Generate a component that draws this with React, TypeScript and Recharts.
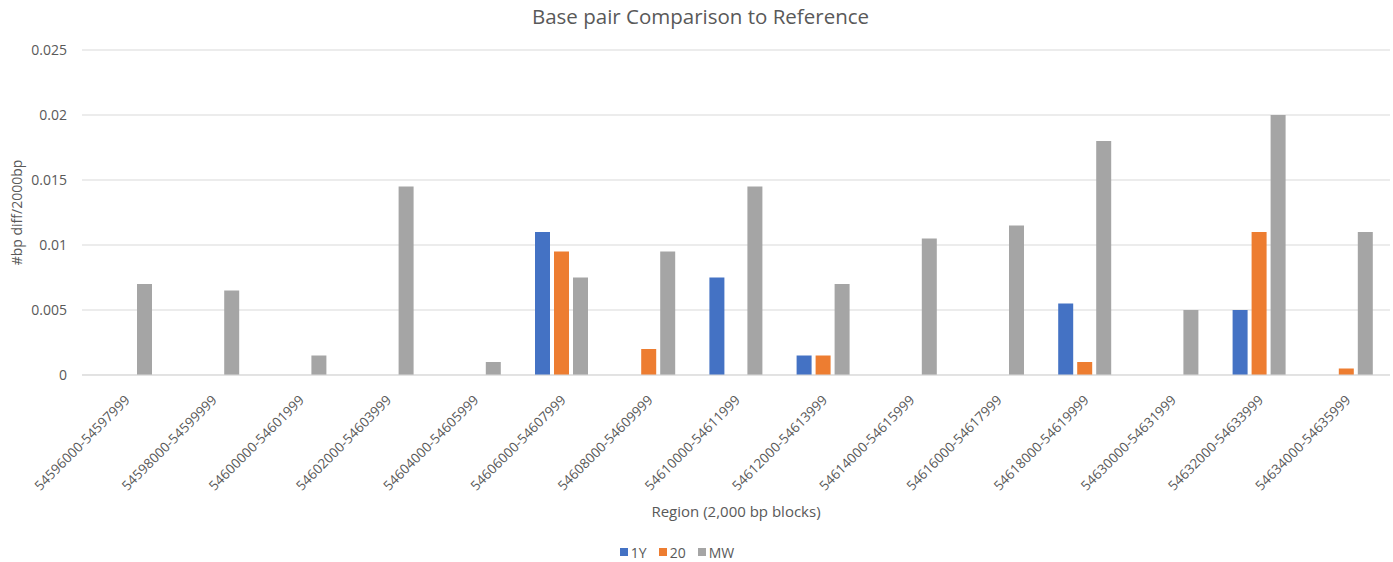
import React from "react";
import { BarChart, Bar, XAxis, YAxis, CartesianGrid, Legend, Label } from "recharts";

const regions = [
  "54596000-54597999",
  "54598000-54599999",
  "54600000-54601999",
  "54602000-54603999",
  "54604000-54605999",
  "54606000-54607999",
  "54608000-54609999",
  "54610000-54611999",
  "54612000-54613999",
  "54614000-54615999",
  "54616000-54617999",
  "54618000-54619999",
  "54630000-54631999",
  "54632000-54633999",
  "54634000-54635999",
];

const series1Y = [0, 0, 0, 0, 0, 0.011, 0, 0.0075, 0.0015, 0, 0, 0.0055, 0, 0.005, 0];
const series20 = [0, 0, 0, 0, 0, 0.0095, 0.002, 0, 0.0015, 0, 0, 0.001, 0, 0.011, 0.0005];
const seriesMW = [0.007, 0.0065, 0.0015, 0.0145, 0.001, 0.0075, 0.0095, 0.0145, 0.007, 0.0105, 0.0115, 0.018, 0.005, 0.02, 0.011];

const yTicks = [0, 0.005, 0.01, 0.015, 0.02, 0.025];

const SERIES = [
  { key: "1Y", color: "#4472C4", values: series1Y },
  { key: "20", color: "#ED7D31", values: series20 },
  { key: "MW", color: "#A5A5A5", values: seriesMW },
];

const data = regions.map((region, i) => {
  const row: Record<string, string | number> = { region };
  SERIES.forEach((s) => {
    row[s.key] = s.values[i];
  });
  return row;
});

const FONT = "'Open Sans', 'Noto Sans', sans-serif";
const TEXT = "#595959";

const RotatedTick = (props: any) => {
  const { x, y, payload } = props;
  const ax = x + 5;
  const ay = y + 18;
  return (
    <text
      x={ax}
      y={ay}
      transform={`rotate(-45, ${ax}, ${ay})`}
      textAnchor="end"
      fill={TEXT}
      fontSize={13.5}
      fontFamily={FONT}
    >
      {payload.value}
    </text>
  );
};

const LegendContent = () => (
  <div
    style={{
      display: "flex",
      justifyContent: "center",
      alignItems: "center",
      height: 20,
      fontFamily: FONT,
      fontSize: 14,
      color: TEXT,
      paddingRight: 24,
    }}
  >
    {SERIES.map((s) => (
      <div key={s.key} style={{ display: "flex", alignItems: "center", marginRight: 12 }}>
        <span style={{ width: 8, height: 8, background: s.color, display: "inline-block", marginRight: 3 }} />
        <span>{s.key}</span>
      </div>
    ))}
  </div>
);

export default function App() {
  return (
    <div style={{ position: "absolute", left: 0, top: 0, width: 1393, height: 562, background: "#fff" }}>
      <div
        style={{
          position: "absolute",
          top: 2,
          left: 0,
          width: 1393,
          textAlign: "center",
          fontFamily: FONT,
          fontSize: 20.5,
          color: TEXT,
          paddingLeft: 4,
        }}
      >
        Base pair Comparison to Reference
      </div>
      <BarChart
        width={1393}
        height={562}
        data={data}
        margin={{ top: 50, right: 3, left: 0, bottom: 0 }}
        barSize={15}
        barGap={4}
      >
        <CartesianGrid vertical={false} stroke="#d9d9d9" />
        <XAxis
          dataKey="region"
          interval={0}
          height={167}
          tickLine={false}
          axisLine={{ stroke: "#d9d9d9" }}
          tick={<RotatedTick />}
        >
          <Label
            value="Region (2,000 bp blocks)"
            position="insideBottom"
            offset={25}
            style={{ fill: TEXT, fontSize: 15, fontFamily: FONT }}
          />
        </XAxis>
        <YAxis
          width={82}
          domain={[0, 0.025]}
          ticks={yTicks}
          interval={0}
          tickLine={false}
          axisLine={false}
          tickMargin={9}
          tick={{ fill: TEXT, fontSize: 14, fontFamily: FONT }}
        >
          <Label
            value="#bp diff/2000bp"
            angle={-90}
            position="insideLeft"
            offset={17}
            style={{ fill: TEXT, fontSize: 14, fontFamily: FONT, textAnchor: "middle" }}
          />
        </YAxis>
        <Legend verticalAlign="bottom" content={<LegendContent />} />
        {SERIES.map((s) => (
          <Bar key={s.key} dataKey={s.key} fill={s.color} isAnimationActive={false} />
        ))}
      </BarChart>
    </div>
  );
}
